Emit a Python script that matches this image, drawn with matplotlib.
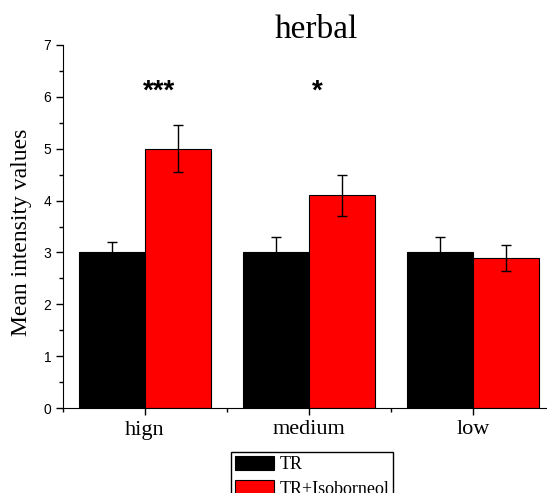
import matplotlib.pyplot as plt
import numpy as np
from matplotlib.ticker import MultipleLocator

categories = ["hign", "medium", "low"]
tr_values = [3.0, 3.0, 3.0]
tr_errors = [0.2, 0.3, 0.3]
iso_values = [5.0, 4.1, 2.9]
iso_errors = [0.45, 0.4, 0.25]
stars = ["***", "*", ""]
star_x = [0.085, 1.05, 2.0]
star_y = [5.97, 5.97, 5.97]

fig = plt.figure(figsize=(5.47, 4.93), dpi=100)
ax = fig.add_axes([63 / 547, 85 / 493, 492 / 547, 363 / 493])

x = np.arange(len(categories))
w = 0.4
ax.bar(x - w / 2, tr_values, w, yerr=tr_errors, color="black", edgecolor="black",
       linewidth=0.8, capsize=3.5, error_kw=dict(elinewidth=1, capthick=1, ecolor="black"),
       label="TR")
ax.bar(x + w / 2, iso_values, w, yerr=iso_errors, color="#ff0000", edgecolor="black",
       linewidth=0.8, capsize=3.5, error_kw=dict(elinewidth=1, capthick=1, ecolor="black"),
       label="TR+Isoborneol")

# significance marks
for sx, sy, s in zip(star_x, star_y, stars):
    if s:
        ax.text(sx, sy, s, ha="center", va="baseline", fontsize=20,
                fontweight="bold", family="Liberation Sans")

ax.set_xlim(-0.5, 2.5)
ax.set_ylim(0, 7)
ax.set_xticks(x)
ax.set_xticklabels(categories, family="Liberation Serif", fontsize=16)
ax.xaxis.set_minor_locator(MultipleLocator(0.5))
ax.yaxis.set_major_locator(MultipleLocator(1))
ax.yaxis.set_minor_locator(MultipleLocator(0.5))
for lab in ax.get_yticklabels():
    lab.set_family("Liberation Sans")
    lab.set_fontsize(10)
ax.tick_params(which="major", direction="out", length=5, width=1)
ax.tick_params(which="minor", direction="out", length=3, width=1)
ax.tick_params(axis="x", pad=4)
ax.spines["top"].set_visible(False)
ax.spines["right"].set_visible(False)

ax.set_ylabel("Mean intensity values", family="Liberation Serif", fontsize=17)
ax.yaxis.set_label_coords(-0.062, 0.485)
ax.set_title("herbal", family="Liberation Serif", fontsize=24, pad=5,
             x=(316 - 63) / 492)

fig.legend(loc="upper left", bbox_to_anchor=(231 / 547, 1 - 452 / 493),
           prop=dict(family="Liberation Serif", size=13), frameon=True, fancybox=False,
           edgecolor="black", framealpha=1, borderpad=0.2, handlelength=2.2,
           handleheight=0.85, handletextpad=0.3, labelspacing=0.4, borderaxespad=0)

fig.savefig("out.png", dpi=100)
